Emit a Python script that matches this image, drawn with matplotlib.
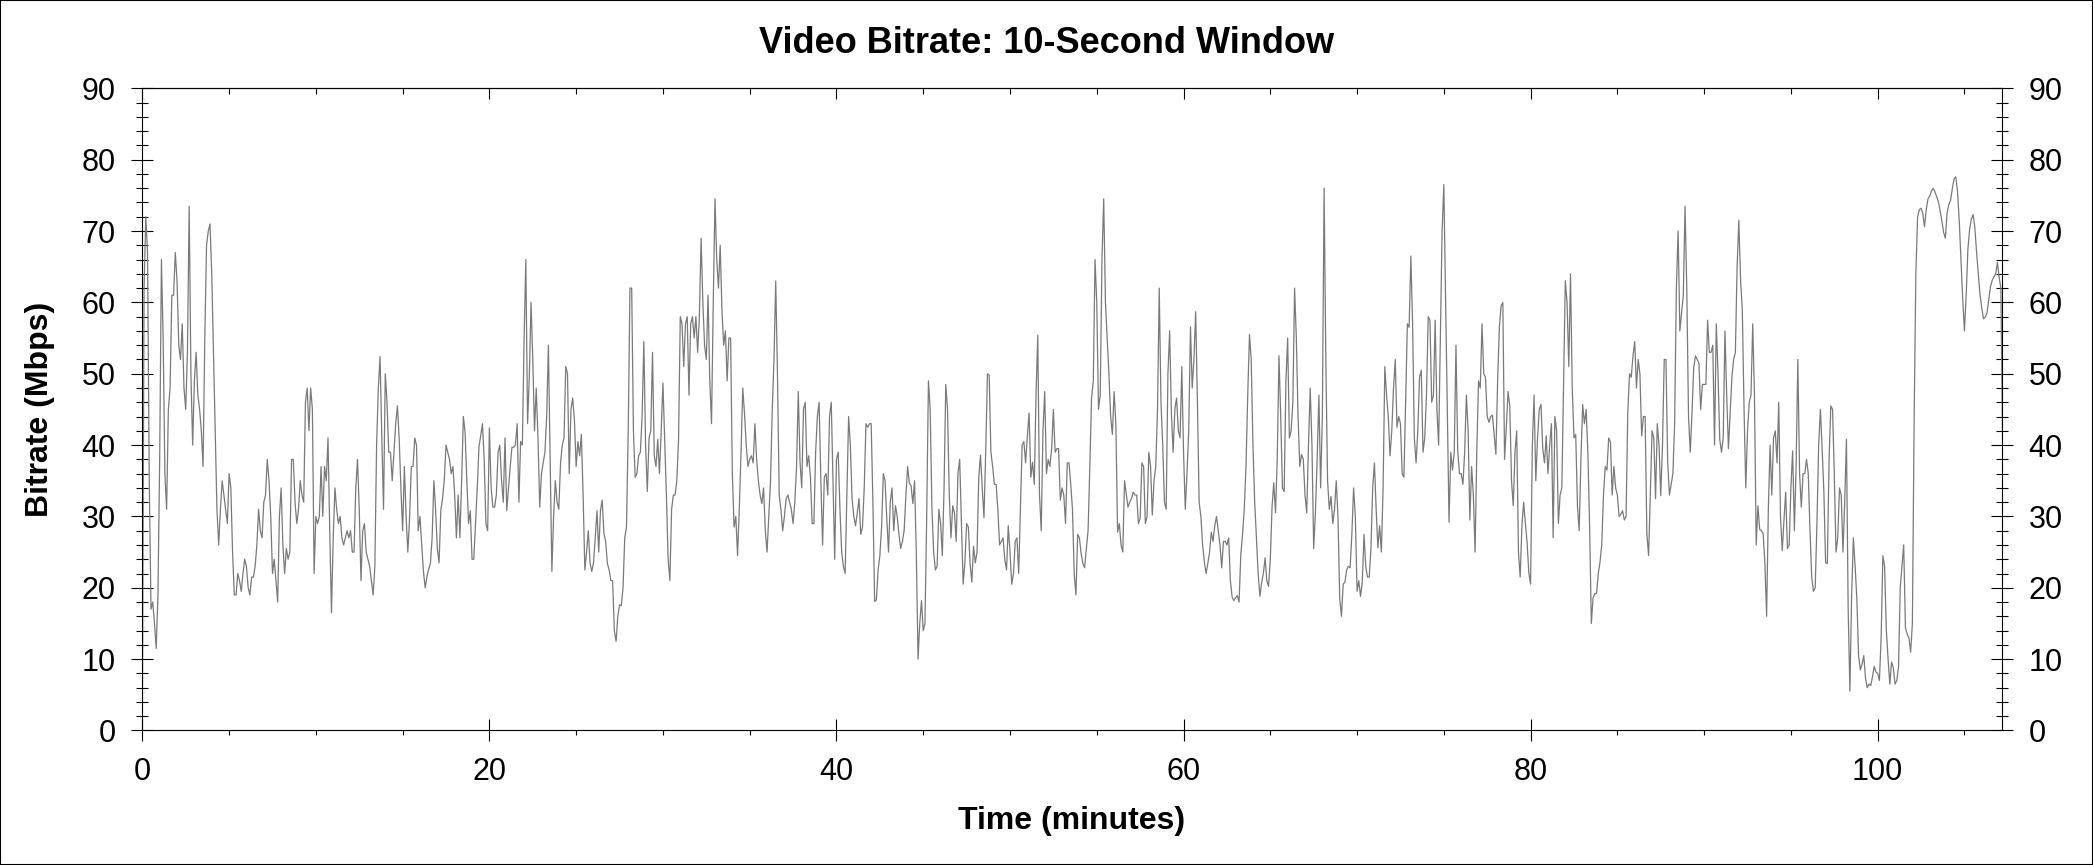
import matplotlib
matplotlib.use("Agg")
import matplotlib.pyplot as plt
from matplotlib.patches import Rectangle
from matplotlib.ticker import MultipleLocator
import numpy as np

plt.rcParams['font.family'] = ['Liberation Sans', 'DejaVu Sans']

# 10-second window bitrate (Mbps), every 0.1 min.
# Each block: start minute, then values.
seg_a_start = 0.0
seg_a = [0, 62, 72, 67, 35, 17, 18, 15, 11.5, 19,
         38, 66, 55, 36, 31, 45, 48, 61, 61, 67,
         63, 54, 52, 57, 48, 45, 53, 73.5, 50, 40,
         49, 53, 47, 45, 42, 37, 55, 68, 70, 71,
         64, 53, 42, 31, 26, 31, 35, 33, 31, 29,
         36, 34, 25, 19, 19, 22, 21, 19.5, 22, 24,
         23, 20, 19, 21.5, 21.5, 23, 26, 31, 28, 27,
         32, 33, 38, 35, 30, 22, 24, 21, 18, 30,
         34, 26, 22, 25.5, 24, 25, 38, 38, 32, 29,
         31, 35, 33, 32, 46, 48, 42, 48, 45, 22,
         30, 29, 30, 37, 30, 37, 35, 41, 28, 16.5,
         27, 34, 31, 29, 30, 27, 26, 27, 28, 27,
         28, 25, 25, 34, 38, 31, 21, 28, 29, 25,
         24, 23, 21, 19, 23]

seg_b_start = 13.5
seg_b = [40, 48, 52.4, 41, 31, 50, 46, 39, 39, 35,
         39, 43, 45.5, 41, 34, 28, 37, 30, 25, 29.7,
         37, 37, 41, 40, 28, 30, 26, 22.3, 20, 21.5,
         22.6, 23.4, 27, 35, 31, 25.5, 23.5, 30.8, 32.5, 35,
         40, 39, 38, 36, 37, 33, 27, 33, 27, 35,
         44, 41.8, 35, 29, 30.8, 24, 24, 29, 34, 39.8,
         41.3, 43, 38, 29, 28, 42.4, 34, 31.3, 31.3, 33,
         39, 40, 35, 32, 41, 30.8, 34, 37, 39.7, 39.7,
         40, 43, 32, 40.5, 40, 55, 66, 43, 49.5, 60,
         52, 42, 48, 41, 31.3, 36, 37.5, 39, 44, 54,
         38, 22.3, 30, 35, 32, 31, 37.5, 40, 41, 51,
         50, 36, 45, 46.6, 43.5, 37, 40.5, 38.5, 41.5, 33,
         22.5, 25, 28, 23.5, 22.3, 23.5, 27, 30.8, 25, 30.8,
         32.3, 27.6, 26.5, 23.4]

seg_c_start = 26.9
seg_c = [22.5, 21, 21, 14, 12.5, 16, 17.6, 17.5, 20, 27,
         28.5, 42, 62, 62, 42, 35.5, 36, 38.5, 39, 44,
         54.5, 40, 33.5, 41, 42, 53, 38.5, 37, 40.8, 36,
         42, 48.7, 41, 33, 24, 21, 31, 33, 33, 35,
         40.8, 58, 57, 51, 57, 58, 47, 57, 58, 55,
         58, 53, 58, 69, 60, 54, 52, 61, 49, 43,
         60, 74.5, 66, 62, 68, 59, 54, 56, 49, 55,
         55, 36, 28.5, 30, 24.5, 31, 39, 48, 44.5, 40,
         37, 38, 38.5, 37.5, 43, 38, 35, 33, 31.8, 34,
         28, 25, 30, 35, 45, 52, 63, 50, 33, 31,
         28, 30, 32.5, 33, 32, 31, 29, 32, 37, 47.5,
         37.6, 34, 45, 46, 37, 38.5, 35.5, 29, 29, 39,
         44, 46, 35, 26, 35.5, 36, 33, 44, 46, 35,
         24]

seg_d_start = 40.0
seg_d = [38, 39, 31, 25, 23, 22, 33, 44, 40, 32.5,
         30, 28.7, 30.5, 32.5, 27.5, 28.5, 34, 43, 42.5, 43,
         43, 32, 18.1, 18.3, 22.5, 24.5, 28.5, 36, 35, 29.7,
         25, 32, 34, 28, 31.5, 30, 27.5, 25.5, 26.5, 28,
         32.9, 37, 34.7, 34.3, 31.8, 35, 25, 10, 15, 18.2,
         14, 15, 30, 49, 45, 31.3, 25, 22.5, 23, 31,
         29, 24.5, 34, 48.5, 45, 33, 27, 31.5, 30.5, 26.5,
         36, 38, 29, 20.5, 23.5, 29, 28.5, 23.4, 20.8, 25.8,
         23.5, 25, 35.5, 38.6, 34, 29.8, 39, 50, 49.8, 39,
         37, 34.5, 34.5, 31, 26, 26.5, 27, 24, 22.5, 28.7,
         25, 20.5, 22, 26.5, 27, 22, 30.8, 40, 40.5, 37.5,
         41.3, 44.5, 35.5, 37.6, 34.5, 47, 55.4, 33, 28, 42,
         47.5, 36, 38, 37, 39.5, 45, 39, 39.5, 39.5, 32.3,
         34, 33, 29, 37.5]

seg_e_start = 53.4
seg_e = [37.5, 34.5, 31, 22, 19, 27.5, 27, 24.8, 23.4, 22.8,
         25.5, 28, 37, 46.6, 49, 66, 60, 45, 47, 66,
         74.5, 60, 55, 50, 44, 41.5, 47.5, 43, 27.8, 29,
         26, 25, 35, 33.2, 31.3, 32, 32.5, 33.4, 33, 33,
         29, 29.7, 37.5, 37, 29, 30, 39, 37, 30.2, 35,
         37, 45, 62, 46, 40, 32, 31, 50, 56, 44.5,
         39, 45, 46.6, 42, 41, 51, 39, 31, 36, 42,
         56.6, 48, 52, 58.7, 46, 32, 30, 26, 23.6, 22,
         23.4, 25, 27.8, 26.5, 28.7, 30, 28, 26, 22.8, 26.5,
         26.5, 26, 27, 21, 18.7, 18.2, 18.6, 18.9, 18, 24.6,
         27.5, 31, 37, 47, 55.5, 52, 40, 32, 27, 22,
         18.8, 20.7, 22, 24.2, 21, 20.2, 24, 31.3, 34.7, 30.5,
         38, 52.5, 44, 34, 33.5, 49, 55, 41, 42, 46,
         62, 55, 44, 37]

seg_f_start = 66.8
seg_f = [38.7, 38, 33, 30.5, 40, 48, 40, 25.5, 30.5, 38,
         47, 34, 44, 76, 52, 35, 31, 32.8, 29, 31,
         35, 30, 18.5, 16, 20.5, 20.8, 22.5, 23, 22.8, 27.5,
         34, 30, 19.5, 21, 18.8, 20.8, 27.5, 23, 21.5, 21.5,
         25.5, 34, 37.5, 31, 25.6, 28.7, 25, 34, 51, 47,
         44, 38.5, 42, 48, 52, 42.5, 44, 43, 36, 35.5,
         46, 57, 56.5, 66.5, 57, 41, 37.5, 42, 49.5, 50.5,
         39, 41, 47, 58, 57.5, 46, 47, 57.5, 45, 40,
         55, 70, 76.5, 61, 45, 29.2, 39, 36.5, 39, 54,
         39.2, 36, 36, 34.5, 39, 47, 42, 29.5, 37, 33,
         25, 39.2, 49, 48, 57, 50, 49.5, 44, 43.2, 44,
         44.2, 41.5, 38.7, 49, 56.5, 59.5, 60, 38, 42.5, 47.5,
         45.5, 35, 31.5, 39, 42, 25, 21.5, 28.7, 32, 29,
         26.3, 22, 20.5]

seg_g_start = 80.1
seg_g = [40, 47, 35, 41, 45, 45.7, 39.5, 37.5, 41.3, 36,
         40, 43, 27, 44, 42, 29, 33, 34, 48.7, 63,
         60, 51, 64, 48, 41, 41.5, 31.5, 28, 38, 45.7,
         43, 45, 39, 28.7, 15, 18.6, 19.2, 19.2, 22, 23.6,
         26, 33, 37, 36.5, 41, 40.5, 33, 37, 34, 33,
         30, 30.3, 30.8, 29.5, 30, 44.5, 50, 49.5, 52.5, 54.5,
         48, 52, 50, 41.3, 44, 44, 27.5, 24.5, 33, 42,
         41, 32.5, 43, 40, 32.9, 40, 52, 52, 37.6, 33,
         34.5, 36, 43, 62, 70, 56, 58.5, 61, 73.5, 62,
         44, 39, 44.5, 50.9, 52.5, 52, 51.5, 45, 48.5, 48.5,
         48.5, 57.5, 53, 53, 54, 40, 57, 50, 40.8, 39,
         41, 56, 47, 39.5, 44.5, 49.5, 52, 53, 65, 71.5,
         63, 59, 45, 34, 42, 46, 47, 57, 47, 26,
         31.5, 28.2, 28, 27.6]

seg_h_start = 93.5
seg_h = [23.5, 16, 31, 40, 33, 41, 42, 37.5, 46, 30,
         25.2, 29.5, 33.4, 25.5, 26, 34, 39.2, 28, 37, 52,
         36, 31.3, 36, 36, 38, 36, 28, 21.5, 19.5, 20,
         29, 40, 45, 39.5, 33.5, 23.5, 23.4, 38, 45.5, 45,
         36, 25, 27, 34, 33, 25, 32, 40.8, 17, 5.5,
         19, 27, 23, 18.5, 10.5, 8.5, 9.3, 10.5, 7.3, 6,
         6.5, 6.3, 7.5, 9, 8.2, 8, 7, 13, 24.5, 23,
         14, 10, 6.5, 9.6, 8.8, 6.5, 7, 8.8, 20, 23,
         26, 14.4, 13.5, 13, 11, 15, 43, 64, 72, 73,
         73.2, 72.5, 70.6, 73, 74.5, 74.9, 75.6, 76, 75.5, 74.8,
         74.1, 72.8, 71.4, 69.8, 69, 72.5, 73.7, 74.3, 75.9, 77.3,
         77.6, 75.6, 71.5, 66, 60.5, 56, 61, 67.5, 70.3, 71.7,
         72.3, 70.5, 67, 64, 61, 59.2, 57.7, 57.9, 58.5, 60.3,
         62.2, 63.1, 63.6, 64, 65.6, 63.5, 62, 40]

segments = [(seg_a_start, seg_a), (seg_b_start, seg_b), (seg_c_start, seg_c),
            (seg_d_start, seg_d), (seg_e_start, seg_e), (seg_f_start, seg_f),
            (seg_g_start, seg_g), (seg_h_start, seg_h)]
step_min = 0.1

minutes = np.concatenate([start + step_min * np.arange(len(v)) for start, v in segments])
mbps = np.concatenate([np.array(v, dtype=float) for _, v in segments])

x_max = 107.15
y_max = 90

fig = plt.figure(figsize=(20.93, 8.65), dpi=100)
ax = fig.add_axes([0.0680, 0.1555, 0.8884, 0.7424])

ax.plot(minutes, mbps, color='#7a7a7a', lw=0.9)

ax.set_xlim(0, x_max)
ax.set_ylim(0, y_max)

ax.xaxis.set_major_locator(MultipleLocator(20))
ax.xaxis.set_minor_locator(MultipleLocator(5))
ax.yaxis.set_major_locator(MultipleLocator(10))
ax.yaxis.set_minor_locator(MultipleLocator(2))

for sp in ax.spines.values():
    sp.set_linewidth(0.8)

ax.tick_params(axis='x', which='major', direction='inout', length=16.5, width=0.8,
               pad=11, labelsize=22, top=False)
ax.tick_params(axis='x', which='minor', direction='out', length=3.6, width=0.8, top=False)
ax.tick_params(axis='y', which='major', direction='inout', length=16.5, width=0.8,
               pad=11, labelsize=22, right=True, labelright=True)
ax.tick_params(axis='y', which='minor', direction='inout', length=8, width=0.8, right=True)

# top axis: ticks pointing inward only, no labels
top = ax.secondary_xaxis('top')
top.xaxis.set_major_locator(MultipleLocator(20))
top.xaxis.set_minor_locator(MultipleLocator(5))
top.tick_params(which='major', direction='in', length=8, width=0.8, labeltop=False)
top.tick_params(which='minor', direction='in', length=4.3, width=0.8)
top.spines['top'].set_linewidth(0.8)

ax.set_xlabel('Time (minutes)', fontsize=23, fontweight='bold')
ax.set_ylabel('Bitrate (Mbps)', fontsize=23, fontweight='bold')
ax.xaxis.set_label_coords(0.5, -0.141)
ax.xaxis.label.set_va('center')
ax.yaxis.set_label_coords(-0.0551, 0.5)
ax.yaxis.label.set_va('center')

fig.text(0.5, 0.950, 'Video Bitrate: 10-Second Window', ha='center', va='center',
         fontsize=26, fontweight='bold')

fig.patches.append(Rectangle((0, 0), 1, 1, transform=fig.transFigure, fill=False,
                             edgecolor='black', linewidth=1.5))

fig.savefig('out.png', dpi=100, facecolor='white')
